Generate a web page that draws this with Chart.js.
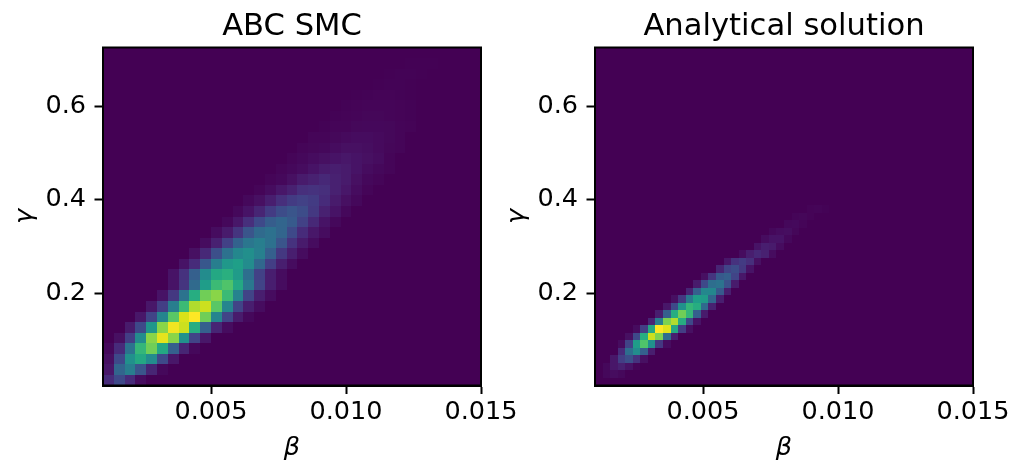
<!DOCTYPE html>
<html>
<head>
<meta charset="utf-8">
<script src="https://cdn.jsdelivr.net/npm/chart.js@4/dist/chart.umd.min.js"></script>
<style>
  html, body { margin: 0; padding: 0; background: #fff; }
  #wrap { position: relative; width: 1022px; height: 464px; }
  canvas { position: absolute; top: 0; }
</style>
</head>
<body>
<div id="wrap">
  <canvas id="left" width="540" height="464" style="left:0"></canvas>
  <canvas id="right" width="530" height="464" style="left:492px"></canvas>
</div>
<script>
// axes
const titles = ['ABC SMC', 'Analytical solution'];
const xLabel = 'β';
const yLabel = 'γ';
const xRange = [0.001, 0.015];
const yRange = [0.002, 0.726];
const xTicks = [0.005, 0.010, 0.015];
const yTicks = [0.2, 0.4, 0.6];

// ABC SMC histogram, 35 x 32 bins, density relative to the max
// each row: [row from bottom, first column, values...]
const abcBins = [35, 32];
const abcRows = [
  [0, 0, [0.12, 0.22, 0.12, 0.03]],
  [1, 0, [0.06, 0.32, 0.42, 0.26, 0.10, 0.02]],
  [2, 0, [0.04, 0.22, 0.50, 0.60, 0.48, 0.22, 0.06]],
  [3, 0, [0.02, 0.12, 0.38, 0.66, 0.78, 0.60, 0.30, 0.10, 0.02]],
  [4, 1, [0.04, 0.18, 0.48, 0.82, 0.96, 0.82, 0.50, 0.20, 0.06]],
  [5, 2, [0.07, 0.22, 0.52, 0.82, 0.98, 0.92, 0.62, 0.30, 0.10, 0.03]],
  [6, 3, [0.06, 0.20, 0.45, 0.74, 0.94, 1.00, 0.78, 0.45, 0.20, 0.07, 0.02]],
  [7, 4, [0.06, 0.18, 0.42, 0.68, 0.88, 0.92, 0.74, 0.45, 0.20, 0.08, 0.03]],
  [8, 5, [0.05, 0.16, 0.38, 0.62, 0.78, 0.82, 0.68, 0.44, 0.20, 0.08, 0.03]],
  [9, 6, [0.05, 0.15, 0.34, 0.55, 0.68, 0.72, 0.60, 0.40, 0.20, 0.08, 0.03]],
  [10, 6, [0.05, 0.14, 0.30, 0.48, 0.60, 0.63, 0.54, 0.36, 0.19, 0.08, 0.03]],
  [11, 7, [0.05, 0.12, 0.27, 0.42, 0.53, 0.56, 0.48, 0.33, 0.18, 0.08, 0.03]],
  [12, 8, [0.04, 0.11, 0.24, 0.37, 0.46, 0.49, 0.43, 0.30, 0.16, 0.08, 0.03]],
  [13, 9, [0.03, 0.09, 0.19, 0.31, 0.39, 0.42, 0.37, 0.26, 0.14, 0.07, 0.03]],
  [14, 10, [0.03, 0.07, 0.15, 0.26, 0.34, 0.37, 0.32, 0.22, 0.12, 0.06, 0.03]],
  [15, 11, [0.02, 0.06, 0.13, 0.22, 0.29, 0.32, 0.28, 0.19, 0.11, 0.05, 0.02]],
  [16, 12, [0.02, 0.05, 0.10, 0.17, 0.23, 0.26, 0.23, 0.16, 0.09, 0.05, 0.02]],
  [17, 13, [0.02, 0.04, 0.08, 0.13, 0.17, 0.19, 0.17, 0.12, 0.07, 0.04, 0.02]],
  [18, 14, [0.01, 0.03, 0.06, 0.09, 0.13, 0.14, 0.13, 0.09, 0.06, 0.03, 0.01]],
  [19, 15, [0.01, 0.02, 0.04, 0.07, 0.09, 0.11, 0.09, 0.07, 0.04, 0.02, 0.01]],
  [20, 16, [0.01, 0.02, 0.03, 0.05, 0.07, 0.08, 0.07, 0.05, 0.03, 0.02, 0.01]],
  [21, 17, [0.01, 0.02, 0.03, 0.04, 0.05, 0.06, 0.05, 0.04, 0.03, 0.01]],
  [22, 18, [0.01, 0.015, 0.02, 0.03, 0.04, 0.04, 0.035, 0.025, 0.015, 0.01]],
  [23, 19, [0.01, 0.012, 0.018, 0.025, 0.03, 0.03, 0.025, 0.018, 0.01]],
  [24, 20, [0.005, 0.01, 0.012, 0.018, 0.02, 0.02, 0.018, 0.012, 0.008]],
  [25, 21, [0.005, 0.008, 0.012, 0.015, 0.015, 0.012, 0.008, 0.005]],
  [26, 22, [0.005, 0.008, 0.01, 0.012, 0.01, 0.008, 0.005]],
  [27, 23, [0.004, 0.006, 0.008, 0.008, 0.006, 0.004]],
  [28, 25, [0.004, 0.006, 0.006, 0.004]],
  [29, 26, [0.003, 0.005, 0.005, 0.003]],
  [30, 28, [0.003, 0.004, 0.003]]
];

// analytical posterior on a 50 x 45 grid
const exactBins = [50, 45];
const exactRows = [
  [1, 1, [0.02, 0.03, 0.02]],
  [2, 1, [0.02, 0.06, 0.09, 0.05, 0.01]],
  [3, 2, [0.06, 0.18, 0.24, 0.14, 0.04]],
  [4, 3, [0.12, 0.36, 0.48, 0.30, 0.08]],
  [5, 3, [0.03, 0.20, 0.55, 0.72, 0.50, 0.16, 0.03]],
  [6, 4, [0.04, 0.22, 0.62, 0.92, 0.80, 0.36, 0.08]],
  [7, 5, [0.03, 0.18, 0.60, 1.00, 0.95, 0.60, 0.18, 0.04]],
  [8, 7, [0.10, 0.42, 0.80, 0.88, 0.62, 0.22, 0.05]],
  [9, 8, [0.08, 0.30, 0.62, 0.78, 0.66, 0.30, 0.07]],
  [10, 9, [0.06, 0.22, 0.50, 0.66, 0.62, 0.34, 0.09]],
  [11, 10, [0.04, 0.16, 0.40, 0.56, 0.54, 0.32, 0.08]],
  [12, 12, [0.10, 0.30, 0.46, 0.46, 0.28, 0.08]],
  [13, 13, [0.07, 0.22, 0.36, 0.38, 0.25, 0.07]],
  [14, 14, [0.04, 0.15, 0.28, 0.30, 0.20, 0.06]],
  [15, 16, [0.10, 0.20, 0.23, 0.16, 0.05]],
  [16, 17, [0.06, 0.14, 0.17, 0.13, 0.04]],
  [17, 19, [0.03, 0.08, 0.11, 0.09, 0.03]],
  [18, 21, [0.05, 0.08, 0.07, 0.03]],
  [19, 22, [0.03, 0.05, 0.05, 0.02]],
  [20, 23, [0.02, 0.03, 0.035, 0.015]],
  [21, 25, [0.02, 0.022, 0.01]],
  [22, 26, [0.01, 0.015, 0.008]],
  [23, 28, [0.008, 0.01, 0.005]]
];

const viridis = ['#440154', '#48186a', '#472d7b', '#424086', '#3b528b', '#33638d', '#2c728e', '#26828e',
  '#21918c', '#1fa088', '#28ae80', '#3fbc73', '#5ec962', '#84d44b', '#addc30', '#d8e219', '#fde725'];

function hex(c) { return [1, 3, 5].map(i => parseInt(c.slice(i, i + 2), 16)); }

function colour(v) {
  const t = Math.max(0, Math.min(1, v)) * (viridis.length - 1);
  const i = Math.min(Math.floor(t), viridis.length - 2), f = t - i;
  const a = hex(viridis[i]), b = hex(viridis[i + 1]);
  const m = a.map((q, k) => Math.round(q + (b[k] - q) * f));
  return 'rgb(' + m.join(',') + ')';
}

// turn rows into cells with bin edges
function cells(bins, rows) {
  const dx = (xRange[1] - xRange[0]) / bins[0];
  const dy = (yRange[1] - yRange[0]) / bins[1];
  const out = [];
  rows.forEach(([r, c0, vals]) => {
    vals.forEach((v, k) => {
      const c = c0 + k;
      out.push({
        x: xRange[0] + (c + 0.5) * dx, y: yRange[0] + (r + 0.5) * dy,
        x0: xRange[0] + c * dx, x1: xRange[0] + (c + 1) * dx,
        y0: yRange[0] + r * dy, y1: yRange[0] + (r + 1) * dy, v: v
      });
    });
  });
  return out;
}

const heatmap = {
  id: 'heatmap',
  beforeDatasetsDraw(chart) {
    const { ctx, chartArea: a, scales: { x, y } } = chart;
    ctx.save();
    ctx.fillStyle = colour(0);
    ctx.fillRect(a.left, a.top, a.width, a.height);
    chart.data.datasets[0].data.forEach(p => {
      const px0 = Math.round(x.getPixelForValue(p.x0)), px1 = Math.round(x.getPixelForValue(p.x1));
      const py0 = Math.round(y.getPixelForValue(p.y1)), py1 = Math.round(y.getPixelForValue(p.y0));
      ctx.fillStyle = colour(p.v);
      ctx.fillRect(px0, py0, px1 - px0, py1 - py0);
    });
    ctx.restore();
  },
  afterDatasetsDraw(chart) {
    const { ctx, chartArea: a } = chart;
    ctx.save();
    ctx.strokeStyle = '#000';
    ctx.lineWidth = 2;
    ctx.strokeRect(a.left, a.top, a.width, a.height);
    ctx.fillStyle = '#000';
    ctx.font = '30.6px "DejaVu Sans"';
    ctx.textAlign = 'center';
    ctx.textBaseline = 'alphabetic';
    ctx.fillText(chart.options.plugins.heatmap.title, (a.left + a.right) / 2, 35);
    ctx.restore();
  }
};

const font = '"DejaVu Sans", sans-serif';

function makeChart(id, title, bins, rows) {
  return new Chart(document.getElementById(id), {
    type: 'scatter',
    data: { datasets: [{ data: cells(bins, rows), pointRadius: 0, pointHoverRadius: 0 }] },
    options: {
      responsive: false,
      animation: false,
      devicePixelRatio: 1,
      layout: { padding: { left: 0, top: 47.5, right: id === 'left' ? 59 : 49, bottom: 0 } },
      plugins: { legend: { display: false }, tooltip: { enabled: false }, heatmap: { title: title } },
      scales: {
        x: {
          type: 'linear', min: xRange[0], max: xRange[1],
          afterBuildTicks: s => { s.ticks = xTicks.map(v => ({ value: v })); },
          afterFit: s => { s.height = 78.5; },
          grid: { drawOnChartArea: false, drawTicks: true, tickLength: 8.5, tickWidth: 2, tickColor: '#000', color: '#000' },
          border: { display: true, color: '#000', width: 2 },
          ticks: { color: '#000', font: { family: font, size: 25.5 }, padding: 3, maxRotation: 0, autoSkip: false,
            callback: v => v.toFixed(3) },
          title: { display: true, text: xLabel, color: '#000', padding: { top: 0, bottom: 0 },
            font: { family: font, size: 25.5, style: 'italic' } }
        },
        y: {
          type: 'linear', min: yRange[0], max: yRange[1],
          afterBuildTicks: s => { s.ticks = yTicks.map(v => ({ value: v })); },
          afterFit: s => { s.width = 103; },
          grid: { drawOnChartArea: false, drawTicks: true, tickLength: 8.5, tickWidth: 2, tickColor: '#000', color: '#000' },
          border: { display: true, color: '#000', width: 2 },
          ticks: { color: '#000', font: { family: font, size: 25.5 }, padding: 8.5, autoSkip: false,
            callback: v => v.toFixed(1) },
          title: { display: true, text: yLabel, color: '#000', padding: { top: 10, bottom: 0 },
            font: { family: font, size: 25.5, style: 'italic' } }
        }
      }
    },
    plugins: [heatmap]
  });
}

makeChart('left', titles[0], abcBins, abcRows);
makeChart('right', titles[1], exactBins, exactRows);
</script>
</body>
</html>
